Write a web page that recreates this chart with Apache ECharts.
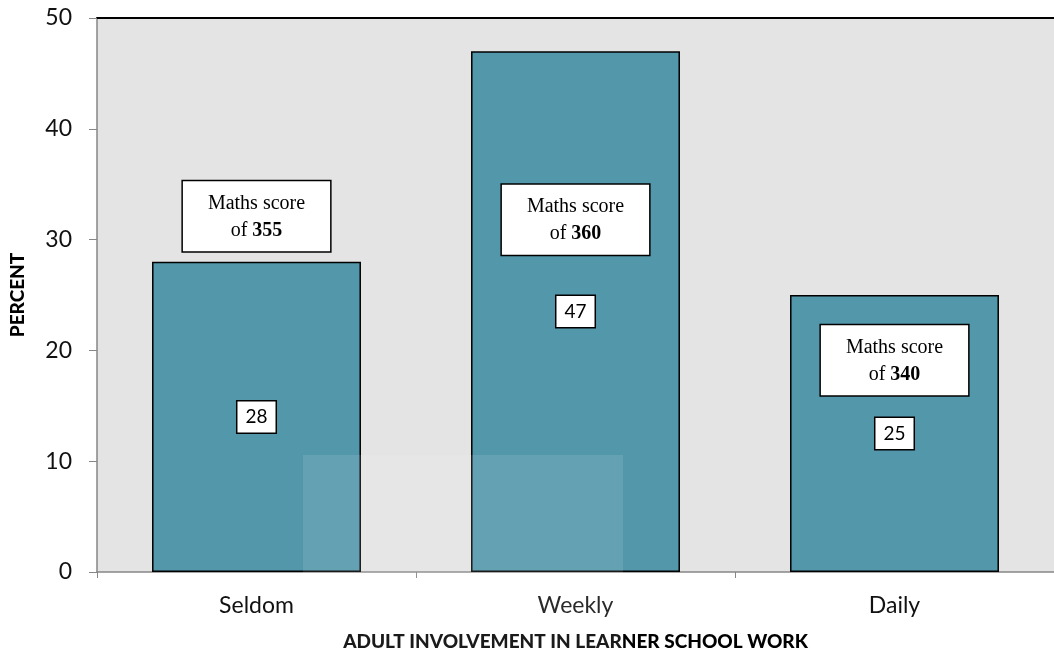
<!DOCTYPE html>
<html>
<head>
<meta charset="utf-8">
<script src="https://cdn.jsdelivr.net/npm/echarts@6/dist/echarts.min.js"></script>
<style>
    html, body { margin: 0; padding: 0; background: #fff; }
    #chart { width: 1054px; height: 659px; }
</style>
</head>
<body>
<div id="chart"></div>
<script>
    // data
    const categories = ['Seldom', 'Weekly', 'Daily']
    const percents = [28, 47, 25]
    const mathsScores = ['355', '360', '340']
    // where the "Maths score" notes sit, in axis units
    const noteY = [32.1, 31.8, 19.1]
    const yTicks = {min: 0, max: 50, interval: 10}

    const notes = categories.map((c, i) => ({value: [c, noteY[i]], score: mathsScores[i]}))

    const chart = echarts.init(document.getElementById('chart'))
    chart.setOption({
        animation: false,
        grid: {
            left: 97, right: 0, top: 18, bottom: 87,
            show: true,
            backgroundColor: '#e4e4e4',
            borderWidth: 0
        },
        xAxis: [
            {
                type: 'category',
                data: categories,
                name: 'ADULT INVOLVEMENT IN LEARNER SCHOOL WORK',
                nameLocation: 'middle',
                nameGap: 60,
                nameTextStyle: {fontFamily: 'Lato', fontWeight: 900, fontSize: 19, color: '#000'},
                axisLine: {lineStyle: {color: '#868686', width: 1.5}},
                axisTick: {show: true, length: 6, lineStyle: {color: '#868686'}},
                axisLabel: {fontFamily: 'Lato', fontSize: 23, color: '#111', margin: 22}
            },
            {
                type: 'category',
                data: categories,
                position: 'top',
                axisLine: {lineStyle: {color: '#000', width: 2}},
                axisTick: {show: false},
                axisLabel: {show: false}
            }
        ],
        yAxis: {
            type: 'value',
            min: yTicks.min, max: yTicks.max, interval: yTicks.interval,
            name: 'PERCENT',
            nameLocation: 'middle',
            nameGap: 70,
            nameRotate: 90,
            nameTextStyle: {fontFamily: 'Lato', fontWeight: 900, fontSize: 19, color: '#000'},
            axisLine: {show: true, lineStyle: {color: '#868686', width: 1.5}},
            axisTick: {show: true, length: 8, lineStyle: {color: '#868686'}},
            splitLine: {show: false},
            axisLabel: {fontFamily: 'Lato', fontSize: 23, color: '#111', margin: 25}
        },
        series: [
            {
                type: 'bar',
                data: percents,
                barWidth: '65.5%',
                itemStyle: {color: '#5397aa', borderColor: '#000', borderWidth: 1.5},
                label: {
                    show: true,
                    position: 'inside',
                    fontFamily: 'Lato',
                    fontSize: 19,
                    color: '#000',
                    backgroundColor: '#fff',
                    borderColor: '#000',
                    borderWidth: 1.5,
                    padding: [7, 8, 5, 8]
                }
            },
            {
                type: 'scatter',
                data: notes,
                symbolSize: 0,
                silent: true,
                z: 5,
                itemStyle: {opacity: 1},
                label: {
                    show: true,
                    position: 'inside',
                    formatter: p => '{n|Maths score}\n{n|of }{b|' + p.data.score + '}',
                    backgroundColor: '#fff',
                    borderColor: '#000',
                    borderWidth: 1.5,
                    padding: [9, 25, 7, 25],
                    align: 'center',
                    rich: {
                        n: {fontFamily: 'Liberation Serif', fontSize: 20, color: '#000', lineHeight: 27},
                        b: {fontFamily: 'Liberation Serif', fontSize: 20, fontWeight: 'bold', color: '#000', lineHeight: 27}
                    }
                }
            }
        ],
        // faint watermark panel behind the axis
        graphic: [{
            type: 'rect',
            left: 303, top: 455,
            shape: {width: 320, height: 204},
            style: {fill: 'rgba(255,255,255,0.1)'},
            z: 100,
            silent: true
        }]
    })
</script>
</body>
</html>
